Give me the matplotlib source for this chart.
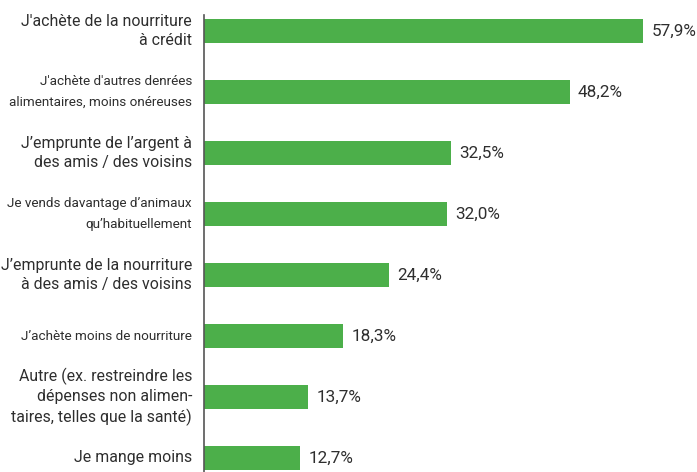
import matplotlib.pyplot as plt

labels = [
    "J'achète de la nourriture\nà crédit",
    "J'achète d'autres denrées\nalimentaires, moins onéreuses",
    "J’emprunte de l’argent à\ndes amis / des voisins",
    "Je vends davantage d’animaux\nqu’habituellement",
    "J’emprunte de la nourriture\nà des amis / des voisins",
    "J’achète moins de nourriture",
    "Autre (ex. restreindre les\ndépenses non alimen-\ntaires, telles que la santé)",
    "Je mange moins",
]
values = [57.9, 48.2, 32.5, 32.0, 24.4, 18.3, 13.7, 12.7]
small_label = [False, True, False, True, False, True, False, False]

green = "#4caf4a"
text_color = "#2e2e2e"

plt.rcParams['font.family'] = ['Roboto', 'DejaVu Sans']

fig = plt.figure(figsize=(6.97, 4.72), dpi=100)
ax = fig.add_axes([0.2927, 0.0, 0.7073, 0.968])

pos = list(range(len(values)))
ax.barh(pos, values, height=0.38, color=green)

# percentage labels next to each bar
for y, v in zip(pos, values):
    ax.text(v + 1.1, y, f"{v:.1f}%".replace(".", ","), va="center", ha="left",
            fontsize=12.3, color=text_color)

# category labels, two sizes
for y, lab, small in zip(pos, labels, small_label):
    ax.text(-1.6, y, lab, ha="right", va="center", color=text_color,
            fontsize=9.7 if small else 11.45,
            linespacing=1.8 if small else 1.37)

ax.set_xlim(0, 65)
ax.set_ylim(7.23, -0.262)
ax.set_xticks([])
ax.set_yticks([])
for side in ["top", "right", "bottom"]:
    ax.spines[side].set_visible(False)
ax.spines["left"].set_color("#555555")
ax.spines["left"].set_linewidth(1.2)

fig.savefig("out.png", dpi=100)
